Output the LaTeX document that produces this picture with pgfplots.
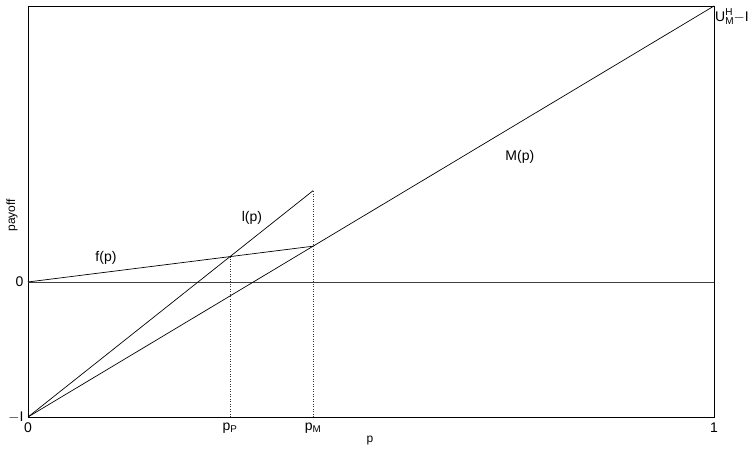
\documentclass[border=0pt]{standalone}
\usepackage{pgfplots}
\pgfplotsset{compat=1.18}
\usepackage{fontspec}
\setmainfont{Liberation Sans}
\begin{document}
\begin{tikzpicture}
\begin{axis}[
  scale only axis,
  width=686pt, height=411pt,
  xmin=0, xmax=1, ymin=-1, ymax=2.044,
  axis line style={line width=0.8pt},
  xtick={0,0.2945,0.4155,1},
  xticklabels={0,p\textsubscript{P},p\textsubscript{M},1},
  ytick={-1,0},
  yticklabels={$-$I,0},
  major tick length=0pt,
  tick label style={font=\fontsize{14}{16}\selectfont},
  /pgf/number format/assume math mode=true,
  xticklabel style={yshift=-2pt},
  yticklabel style={xshift=-1pt},
  xlabel={p}, ylabel={payoff},
  label style={font=\fontsize{12}{14}\selectfont},
  xlabel style={at={(axis description cs:0.4985,-0.058)}, anchor=center},
  ylabel style={at={(axis description cs:-0.0233,0.491)}, anchor=center},
  clip=false,
]
\addplot[black!75, line width=0.5pt] coordinates {(0,0) (1,0)};
\addplot[black, line width=0.7pt] coordinates {(0,-1) (1,2.044)};
\addplot[black, line width=0.7pt] coordinates {(0,0) (0.4155,0.265)};
\addplot[black, line width=0.7pt] coordinates {(0,-1) (0.4155,0.676)};
\addplot[black!80, dotted, line width=0.5pt] coordinates {(0.2945,-1) (0.2945,0.188)};
\addplot[black!80, dotted, line width=0.5pt] coordinates {(0.4155,-1) (0.4155,0.676)};
\node[font=\fontsize{14}{16}\selectfont] at (axis cs:0.1137,0.178) {f(p)};
\node[font=\fontsize{14}{16}\selectfont] at (axis cs:0.3265,0.474) {l(p)};
\node[font=\fontsize{14}{16}\selectfont] at (axis cs:0.717,0.926) {M(p)};
\node[anchor=west, inner sep=1pt, font=\fontsize{14}{16}\selectfont] at (axis cs:1,1.965) {U\rlap{\raisebox{0.8ex}{\fontsize{10}{11}\selectfont H}}\raisebox{-0.4ex}{\fontsize{10}{11}\selectfont M}$-$I};
\end{axis}
\pgfresetboundingbox
\path ([shift={(-28pt,-35pt)}]current axis.south west) rectangle ([shift={(35pt,6pt)}]current axis.north east);
\end{tikzpicture}
\end{document}
